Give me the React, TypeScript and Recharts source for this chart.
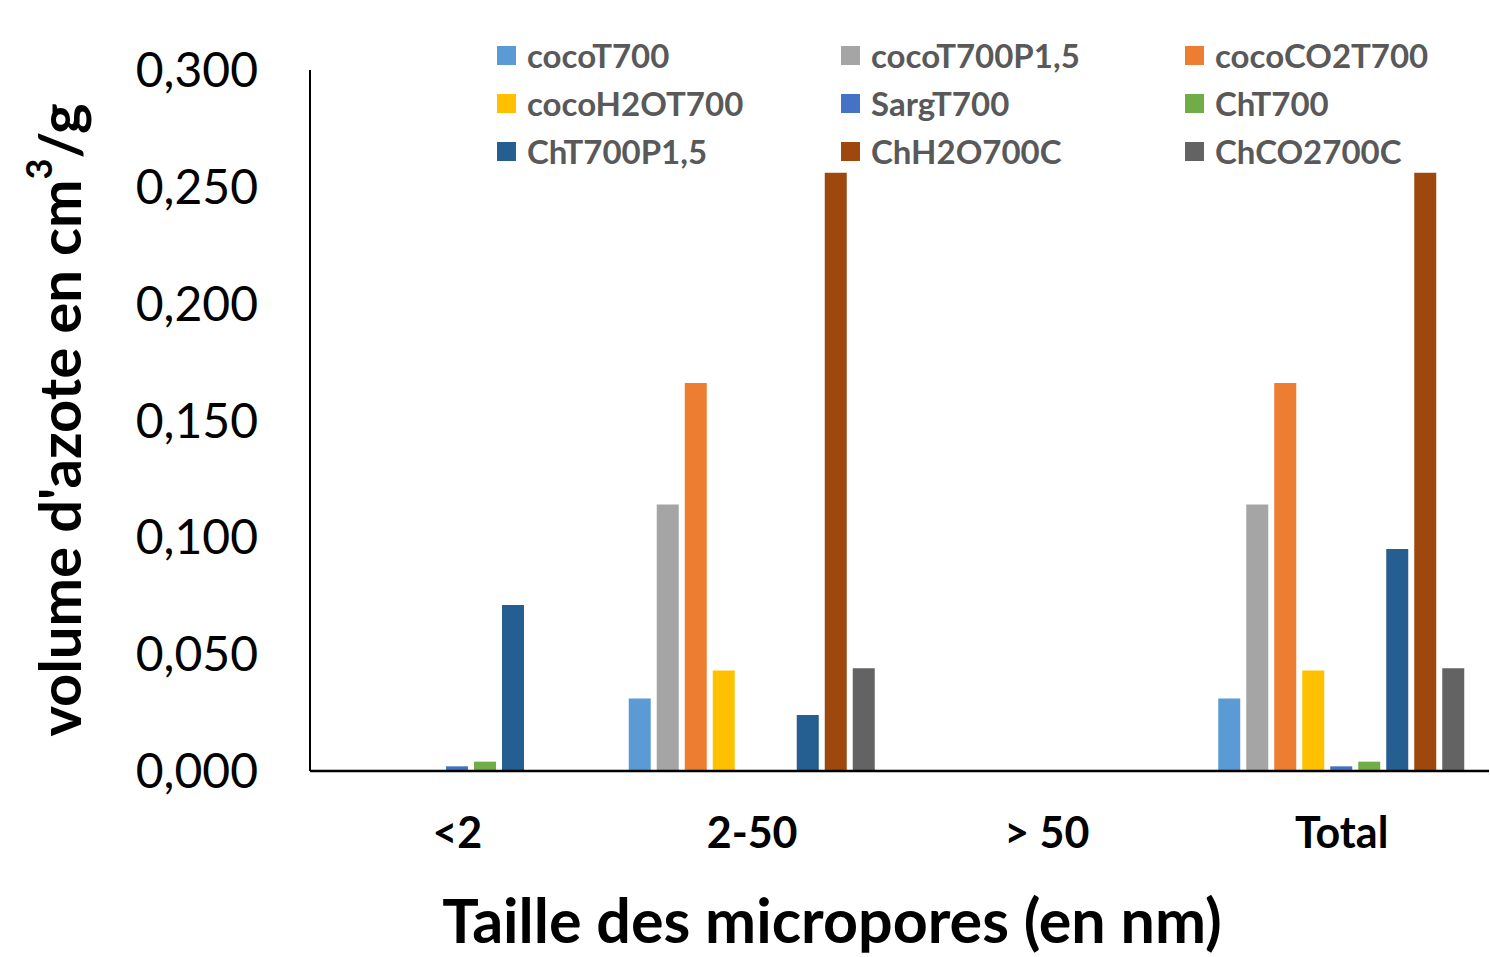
import React from 'react';
import { BarChart, Bar, XAxis, YAxis, Legend, Label } from 'recharts';

const categories = ['<2', '2-50', '> 50', 'Total'];
const seriesNames = [
  'cocoT700', 'cocoT700P1,5', 'cocoCO2T700',
  'cocoH2OT700', 'SargT700', 'ChT700',
  'ChT700P1,5', 'ChH2O700C', 'ChCO2700C',
];
const cocoT700 = [0, 0.031, 0, 0.031];
const cocoT700P15 = [0, 0.114, 0, 0.114];
const cocoCO2T700 = [0, 0.166, 0, 0.166];
const cocoH2OT700 = [0, 0.043, 0, 0.043];
const SargT700 = [0.002, 0, 0, 0.002];
const ChT700 = [0.004, 0, 0, 0.004];
const ChT700P15 = [0.071, 0.024, 0, 0.095];
const ChH2O700C = [0, 0.256, 0, 0.256];
const ChCO2700C = [0, 0.044, 0, 0.044];
const yTicks = [0, 0.05, 0.1, 0.15, 0.2, 0.25, 0.3];
const colors = [
  '#5B9BD5', '#A5A5A5', '#ED7D31',
  '#FFC000', '#4472C4', '#70AD47',
  '#255E91', '#9E480E', '#636363',
];

const seriesValues = [
  cocoT700, cocoT700P15, cocoCO2T700,
  cocoH2OT700, SargT700, ChT700,
  ChT700P15, ChH2O700C, ChCO2700C,
];

const data = categories.map((c, i) => {
  const row: Record<string, any> = { cat: c };
  seriesNames.forEach((s, j) => {
    row[s] = seriesValues[j][i];
  });
  return row;
});

const FONT = 'Lato, "Open Sans", sans-serif';

const LegendContent = () => (
  <div style={{ position: 'relative', width: 1040, height: 0, fontFamily: FONT }}>
    {seriesNames.map((s, i) => {
      const col = i % 3;
      const row = Math.floor(i / 3);
      return (
        <div
          key={s}
          style={{
            position: 'absolute',
            left: col * 344,
            top: row * 48,
            height: 38,
            display: 'flex',
            alignItems: 'center',
            whiteSpace: 'nowrap',
          }}
        >
          <span style={{ display: 'inline-block', width: 19, height: 19, background: colors[i], marginRight: 11 }} />
          <span style={{ fontSize: 33, fontWeight: 700, color: '#595959' }}>{s}</span>
        </div>
      );
    })}
  </div>
);

const YTitle = () => {
  const cx = 58;
  const cy = 420;
  return (
    <text
      x={cx}
      y={cy}
      transform={`rotate(-90 ${cx} ${cy})`}
      textAnchor="middle"
      dominantBaseline="central"
      fontFamily={FONT}
      fontWeight={700}
      fontSize={58}
      fill="#000"
    >
      volume d'azote en cm<tspan dy={-20} fontSize={36}>3</tspan><tspan dy={20}>/g</tspan>
    </text>
  );
};

const XTitle = () => (
  <text
    x={832}
    y={943}
    textAnchor="middle"
    fontFamily={FONT}
    fontWeight={700}
    fontSize={61}
    fill="#000"
  >
    Taille des micropores (en nm)
  </text>
);

export default function App() {
  return (
    <div style={{ width: 1490, height: 957, background: '#fff' }}>
      <style>{`body{margin:0;background:#fff}`}</style>
      <BarChart
        width={1490}
        height={957}
        data={data}
        margin={{ top: 70, right: 1, bottom: 0, left: 0 }}
        barSize={22}
        barGap={6}
      >
        <XAxis
          dataKey="cat"
          axisLine={{ stroke: '#000', strokeWidth: 2.5 }}
          tickLine={false}
          tickSize={0}
          tickMargin={46}
          height={186}
          interval={0}
          tick={{ fill: '#000', fontSize: 43, fontWeight: 700, fontFamily: FONT }}
        >
          <Label content={<XTitle />} />
        </XAxis>
        <YAxis
          width={310}
          domain={[0, 0.3]}
          ticks={yTicks}
          interval={0}
          axisLine={{ stroke: '#000', strokeWidth: 2 }}
          tickLine={false}
          tickSize={0}
          tickMargin={52}
          tickFormatter={(v: number) => v.toFixed(3).replace('.', ',')}
          tick={{ fill: '#000', fontSize: 48, fontFamily: FONT }}
        >
          <Label content={<YTitle />} />
        </YAxis>
        <Legend
          verticalAlign="top"
          align="left"
          content={<LegendContent />}
          wrapperStyle={{ position: 'absolute', left: 497, top: 36, width: 1040, height: 0 }}
        />
        {seriesNames.map((s, i) => (
          <Bar key={s} dataKey={s} fill={colors[i]} isAnimationActive={false} />
        ))}
      </BarChart>
    </div>
  );
}
